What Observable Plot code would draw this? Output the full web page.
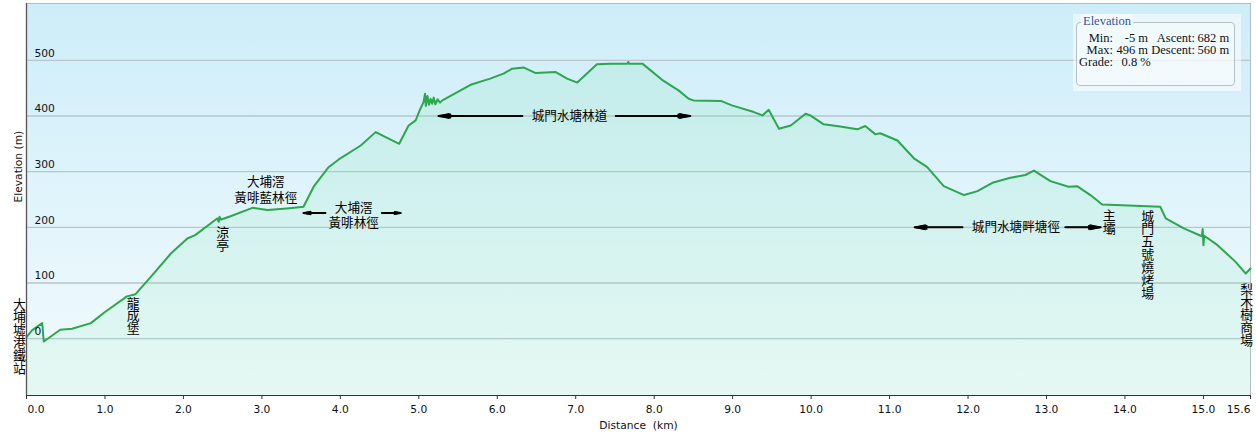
<!DOCTYPE html>
<html><head><meta charset="utf-8">
<script src="https://cdn.jsdelivr.net/npm/d3@7"></script>
<script src="https://cdn.jsdelivr.net/npm/@observablehq/plot@0.6"></script>
<style>
html,body{margin:0;padding:0;background:#fff;}
#wrap{position:relative;width:1256px;height:441px;overflow:hidden;}
#legend{position:absolute;left:1073px;top:14px;width:168px;height:77px;background:rgba(255,255,255,0.55);font-family:"Liberation Serif","DejaVu Serif",serif;font-size:12.5px;color:#111;}
#legend .box{position:absolute;left:3px;top:8px;width:157px;height:62px;border:1px solid #b8c0c4;border-radius:4px;background:rgba(255,255,255,0.35);}
#legend .ttl{position:absolute;left:8px;top:0px;padding:0 2px;color:#2b58a6;background:#f3f9fc;line-height:14px;}
#legend span{position:absolute;white-space:pre;line-height:13px;}
</style></head><body><div id="wrap"></div>
<script>
// ---- data ----
const dist = [0,0.07,0.20,0.22,0.43,0.58,0.82,1.00,1.28,1.39,1.62,1.84,2.05,2.15,2.43,2.45,2.46,2.48,2.60,2.88,3.07,3.32,3.53,3.66,3.85,4.00,4.26,4.45,4.75,4.87,4.96,5.02,5.06,5.08,5.09,5.11,5.13,5.15,5.17,5.19,5.21,5.24,5.27,5.30,5.66,5.91,6.08,6.19,6.34,6.49,6.74,6.89,7.02,7.27,7.44,7.66,7.67,7.68,7.85,8.10,8.31,8.44,8.50,8.85,8.99,9.27,9.38,9.46,9.59,9.74,9.93,9.99,10.16,10.37,10.59,10.69,10.82,10.88,11.10,11.31,11.48,11.69,11.95,12.12,12.31,12.54,12.73,12.84,13.05,13.28,13.39,13.56,13.71,14.45,14.52,14.75,14.98,14.99,15.00,15.01,15.18,15.41,15.54,15.60];
const elev = [3,15,28,-5,16,18,28,48,76,80,117,153,180,186,216,210,219,214,220,235,231,234,237,273,308,324,347,371,350,383,392,413,425,440,418,436,420,431,422,433,421,430,424,428,456,467,476,485,487,477,479,467,460,493,494,494,497,494,494,465,446,431,428,427,419,407,401,411,377,383,404,401,385,381,376,382,367,369,356,324,308,274,258,265,280,289,294,302,283,273,274,258,241,237,216,198,184,197,168,185,168,138,117,126];

const yTicks = [0,100,200,300,400,500];
const xTicks = [0,1,2,3,4,5,6,7,8,9,10,11,12,13,14,15];
const xEnd = 15.6;
const xDomain = [0, 15.6];
const yDomain = [-102, 602];

// horizontal annotations
const hLabels = ["城門水塘林道","城門水塘畔塘徑","大埔滘","黃啡林徑","大埔滘","黃啡藍林徑"];
const hLabelX = [6.92, 12.61, 4.17, 4.17, 3.05, 3.05];
const hLabelY = [400, 200, 234, 207, 281, 252];

// vertical annotations
const vLabels = ["大埔墟港鐵站","龍成堡","涼亭","主壩","城門五號燒烤場","梨木樹商場"];
const vLabelX = [-0.09, 1.36, 2.50, 13.80, 14.29, 15.55];
const vLabelY = [3.5, 40, 177.5, 208, 150, 42];

// arrows (tail -> head)
const arrowX1 = [6.32, 7.51, 3.81, 4.53, 11.93, 13.24];
const arrowX2 = [5.25, 8.46, 3.53, 4.77, 11.32, 13.69];
const arrowY  = [400, 400, 225.7, 225.7, 200, 200];

const legendTitle = "Elevation";
const legendRows = [
  ["Min:", "-5 m", "Ascent:", "682 m"],
  ["Max:", "496 m", "Descent:", "560 m"],
  ["Grade:", "0.8 %", "", ""]
];

// ---- build ----
const profile = dist.map((d, i) => ({d, e: elev[i]}));
const hData = hLabels.map((t, i) => ({t, x: hLabelX[i], y: hLabelY[i]}));
const vData = vLabels.map((t, i) => ({t, x: vLabelX[i], y: vLabelY[i]}));
const arrows = arrowX1.map((x1, i) => ({x1, x2: arrowX2[i], y: arrowY[i]}));
const numFont = "DejaVu Sans, Verdana, sans-serif";
const cjkFont = "Noto Sans CJK TC, Noto Sans CJK SC, sans-serif";
const yMin = yDomain[0];

const chart = Plot.plot({
  width: 1256, height: 441,
  marginLeft: 26, marginRight: 6, marginTop: 3, marginBottom: 46,
  x: {domain: xDomain, axis: null},
  y: {domain: yDomain, axis: null},
  style: {background: "transparent", overflow: "visible"},
  marks: [
    Plot.frame({fill: "url(#bgGrad)", stroke: "#b4bcc0"}),
    Plot.ruleY(yTicks, {stroke: "#b9c5ca", strokeWidth: 1.3}),
    Plot.areaY(profile, {x: "d", y1: () => yMin, y2: "e", fill: "url(#areaGrad)"}),
    Plot.line(profile, {x: "d", y: "e", stroke: "#2ca64f", strokeWidth: 2}),
    Plot.text(yTicks, {x: 0, y: d => d, text: d => String(d), dx: 8, dy: -7, textAnchor: "start", fontFamily: numFont, fontSize: 10.7, fill: "#111"}),
    Plot.ruleX([0], {stroke: "#555", strokeWidth: 1.3}),
    Plot.ruleY([yMin], {stroke: "#333", strokeWidth: 1.2}),
    Plot.ruleX(xTicks.concat([xEnd]), {x: d => d, y1: () => yMin, y2: () => yMin, insetBottom: -4, stroke: "#333"}),
    Plot.text(xTicks.slice(0, 1), {x: d => d, y: () => yMin, dy: 14, dx: 1, textAnchor: "start", text: d => d.toFixed(1), fontFamily: numFont, fontSize: 10.7, fill: "#111"}),
    Plot.text(xTicks.slice(1), {x: d => d, y: () => yMin, dy: 14, text: d => d.toFixed(1), fontFamily: numFont, fontSize: 10.7, fill: "#111"}),
    Plot.text([xEnd], {x: d => d, y: () => yMin, dy: 14, textAnchor: "end", text: d => d.toFixed(1), fontFamily: numFont, fontSize: 10.7, fill: "#111"}),
    Plot.text([0], {frameAnchor: "bottom", dy: 33, text: () => "Distance  (km)", fontFamily: numFont, fontSize: 10.7, fill: "#111"}),
    Plot.text([0], {frameAnchor: "left", dx: -8, dy: 3, rotate: -90, text: () => "Elevation (m)", fontFamily: numFont, fontSize: 10.7, fill: "#111"}),
    Plot.arrow(arrows, {x1: "x1", x2: "x2", y1: "y", y2: "y", stroke: "#000", strokeWidth: 1.1, headLength: 15, headAngle: 26}),
    Plot.arrow(arrows, {x1: "x1", x2: "x2", y1: "y", y2: "y", stroke: "#000", strokeWidth: 2, headLength: 9, headAngle: 14}),
    Plot.text(hData, {x: "x", y: "y", text: "t", fontFamily: cjkFont, fontSize: 12.6, fill: "#000"}),
    Plot.text(vData, {x: "x", y: "y", dy: -5, text: "t", fontFamily: cjkFont, fontSize: 12.9, fill: "#000"})
  ]
});

d3.select(chart).insert("defs", ":first-child").html(`
  <linearGradient id="bgGrad" x1="0" y1="0" x2="0" y2="1">
    <stop offset="0" stop-color="#cdedf9"/>
    <stop offset="1" stop-color="#f3fbfd"/>
  </linearGradient>
  <linearGradient id="areaGrad" x1="0" y1="0" x2="0" y2="1">
    <stop offset="0" stop-color="#6fe0a0" stop-opacity="0.16"/>
    <stop offset="1" stop-color="#7fe6ab" stop-opacity="0.12"/>
  </linearGradient>`);

// vertical (top-to-bottom) writing for the vertical labels
chart.querySelectorAll("text").forEach(t => {
  if (vLabels.includes(t.textContent)) {
    t.removeAttribute("dy");
    t.setAttribute("writing-mode", "vertical-rl");
    t.style.writingMode = "vertical-rl";
    t.style.textOrientation = "upright";
    t.setAttribute("text-anchor", "middle");
  }
});

const wrap = document.getElementById("wrap");
wrap.appendChild(chart);

// legend overlay
const lg = document.createElement("div");
lg.id = "legend";
lg.innerHTML = `<div class="box"></div><div class="ttl">${legendTitle}</div>`;
const rowTop = [18, 30, 42];
legendRows.forEach((r, i) => {
  const cells = [
    {t: r[0], right: 168 - 40},
    {t: r[1], right: 168 - 75},
    {t: r[2], right: 168 - 122},
    {t: r[3], left: 124.5}
  ];
  if (i === 2) cells[1] = {t: r[1], left: 48.5};
  cells.forEach(c => {
    if (!c.t) return;
    const s = document.createElement("span");
    s.textContent = c.t;
    s.style.top = rowTop[i] + "px";
    if (c.left !== undefined) s.style.left = c.left + "px";
    else s.style.right = c.right + "px";
    lg.appendChild(s);
  });
});
wrap.appendChild(lg);
</script>
</body></html>
